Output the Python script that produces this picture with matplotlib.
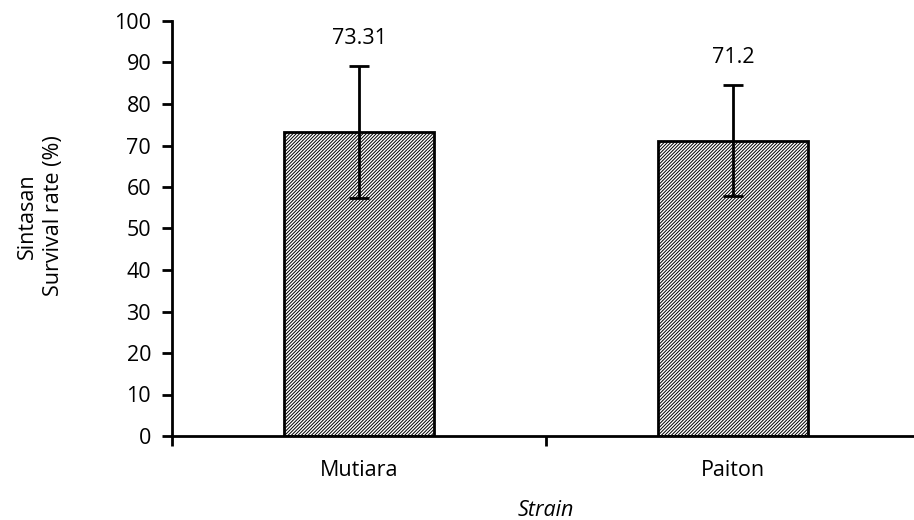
import matplotlib
matplotlib.use("Agg")
import matplotlib.pyplot as plt

categories = ["Mutiara", "Paiton"]
values = [73.31, 71.2]
err_upper = [15.9, 13.4]
err_lower = [15.9, 13.4]
labels = ["73.31", "71.2"]
yticks = [0, 10, 20, 30, 40, 50, 60, 70, 80, 90, 100]

plt.rcParams['font.family'] = ['Open Sans', 'DejaVu Sans']
plt.rcParams['hatch.linewidth'] = 0.7
plt.rcParams['hatch.color'] = '#333333'

FS = 15.5

fig = plt.figure(figsize=(9.14, 5.2), dpi=100)
ax = fig.add_axes([172/914, 1-436/520, (920-172)/914, (436-21)/520])

x = list(range(len(categories)))
ax.bar(x, values, width=0.4, color='white', edgecolor='black', linewidth=2,
       hatch='//////////', zorder=2)
ax.errorbar(x, values, yerr=[err_lower, err_upper], fmt='none', ecolor='black',
            elinewidth=2, capsize=7, capthick=2, zorder=3)
for xi, v, eu, lab in zip(x, values, err_upper, labels):
    ax.text(xi, v + eu + 4, lab, ha='center', va='bottom', fontsize=FS)

ax.set_xlim(-0.5, 1.5)
ax.set_ylim(0, 100)
ax.set_yticks(yticks)
ax.set_xticks(x)
ax.set_xticklabels(categories)
ax.tick_params(axis='x', which='major', length=0, pad=17, labelsize=FS)
ax.set_xticks([-0.5, 0.5, 1.5], minor=True)
ax.tick_params(axis='x', which='minor', length=7, width=2, direction='out')
ax.tick_params(axis='y', length=7, width=2, direction='out', labelsize=FS, pad=8)
for s in ['top', 'right']:
    ax.spines[s].set_visible(False)
for s in ['left', 'bottom']:
    ax.spines[s].set_linewidth(2)

ax.set_xlabel("Strain", fontsize=FS, style='italic', labelpad=14)
ax.set_ylabel("Sintasan\nSurvival rate (%)", fontsize=FS, labelpad=36, linespacing=1.3)
ax.yaxis.label.set_y(0.53)

fig.savefig("out.png", dpi=100)
